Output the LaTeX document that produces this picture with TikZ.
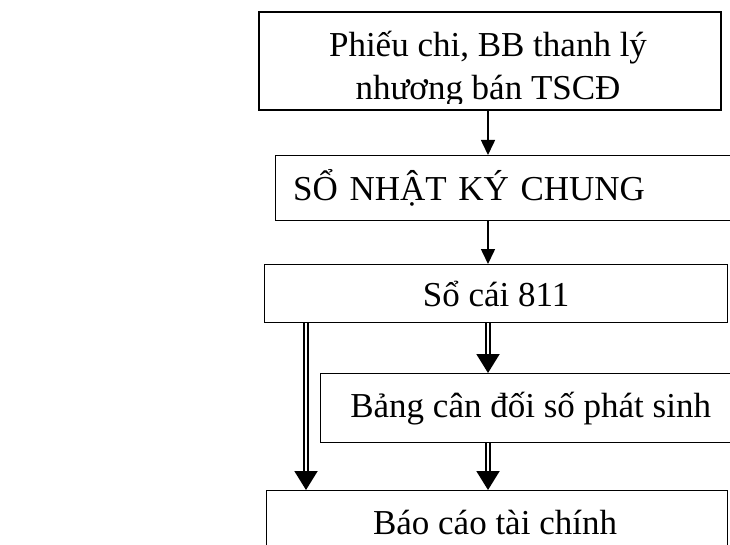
\documentclass[tikz,border=0pt]{standalone}
\usepackage{fontspec}
\setmainfont{Liberation Serif}
\usetikzlibrary{arrows.meta, positioning}

\tikzset{
  box/.style={draw, line width=1.3pt, rectangle, inner sep=0pt, align=center},
  single/.style={line width=1.6pt, -{Triangle[length=15pt, width=14pt]}},
  twin/.style={double, double distance=2.6pt, line width=2pt,
    -{Triangle[length=19pt, width=23pt]}},
}

\begin{document}
\begin{tikzpicture}[x=1pt, y=-1pt, font=\fontsize{35}{43}\selectfont]
  \useasboundingbox (0,0) rectangle (730,545);
  \coordinate (axis) at (488,0);
  \coordinate (leftaxis) at (306,0);

  % boxes
  \node[box, minimum width=462pt, minimum height=98pt] (phieu) at (490,61) {};
  \begin{scope}
    \clip (phieu.north west) rectangle ([yshift=7pt]phieu.south east);
    \node[align=center] (phieutext) at (488,69) {Phiếu chi, BB thanh lý\\nhương bán TSCĐ};
  \end{scope}
  \node[box, minimum width=465pt, minimum height=65pt, anchor=north west,
        text width=430pt, align=left] (nkc) at (275,155) {SỔ NHẬT KÝ CHUNG};
  \node[box, minimum width=463pt, minimum height=58pt, anchor=north west] (socai) at (264,264) {Sổ cái 811};
  \node[box, minimum width=420pt, minimum height=69pt, anchor=north west] (bangcd) at (320,373) {Bảng cân đối số phát sinh};
  \node[box, minimum width=461pt, minimum height=70pt, anchor=north west] (baocao) at (266,490) {};
  \node at (495,522) (baocaotext) {Báo cáo tài chính};

  % arrows
  \draw[single] (phieu.south -| axis) -- (nkc.north -| axis);
  \draw[single] (nkc.south -| axis) -- (socai.north -| axis);
  \draw[twin] (socai.south -| axis) -- (bangcd.north -| axis);
  \draw[twin] (bangcd.south -| axis) -- (baocao.north -| axis);
  \draw[twin] (socai.south -| leftaxis) -- (baocao.north -| leftaxis);
\end{tikzpicture}
\end{document}
